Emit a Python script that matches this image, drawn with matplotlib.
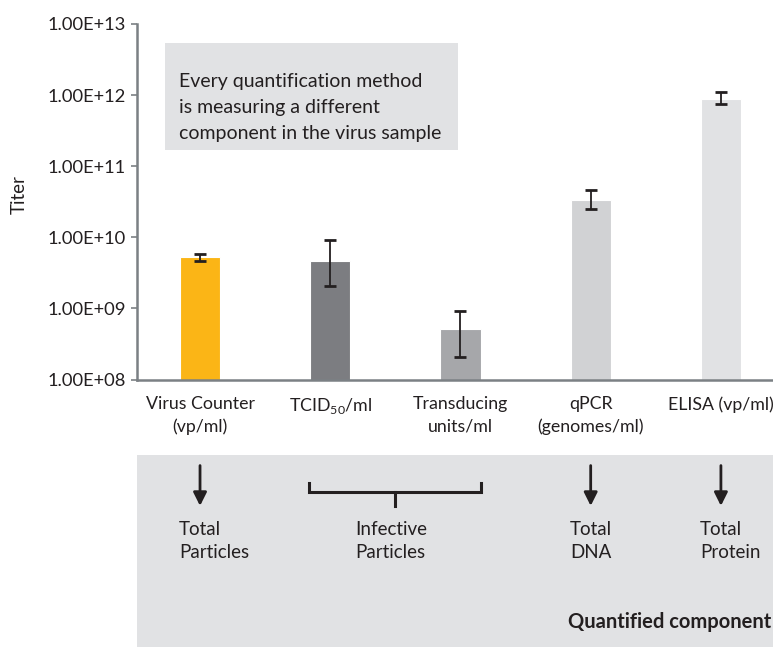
import numpy as np
import matplotlib
matplotlib.use('Agg')
import matplotlib.pyplot as plt
from matplotlib.patches import Rectangle
from matplotlib.ticker import FixedLocator, FuncFormatter

plt.rcParams['font.family'] = ['Lato', 'DejaVu Sans']

# data
categories = ['Virus Counter\n(vp/ml)', r'TCID$_{\mathregular{50}}$/ml', 'Transducing\nunits/ml',
              'qPCR\n(genomes/ml)', 'ELISA (vp/ml)']
titer = [5.2e9, 4.6e9, 5.1e8, 3.4e10, 8.9e11]
err_low = [4.7e9, 2.05e9, 2.1e8, 2.5e10, 7.4e11]
err_high = [5.9e9, 9.1e9, 9.2e8, 4.7e10, 1.09e12]
bar_colors = ['#FBB516', '#7C7D81', '#A6A7AA', '#D1D2D4', '#E1E2E4']
y_ticks = [1e8, 1e9, 1e10, 1e11, 1e12, 1e13]

components = ['Total\nParticles', 'Infective\nParticles', 'Total\nDNA', 'Total\nProtein']
comp_pos = [0, 1, 3, 4]  # index of bar where each component label sits

W, H = 773, 647
fs = 13.5
dark = '#231F20'
fig = plt.figure(figsize=(W / 100, H / 100), dpi=100)

ax = fig.add_axes([137 / W, 1 - 379.5 / H, 1 - 137 / W, (379.5 - 24) / H])
x = np.arange(len(titer))
vals = np.array(titer)
yerr = [vals - np.array(err_low), np.array(err_high) - vals]
ax.bar(x, vals, width=0.31, color=bar_colors, edgecolor='white', linewidth=0.8, zorder=2)
ax.errorbar(x, vals, yerr=yerr, fmt='none', ecolor=dark, elinewidth=1.3,
            capsize=4, capthick=2, zorder=3)

ax.set_yscale('log')
ax.set_ylim(1e8, 1e13)
ax.set_xlim(-0.484, 4.4)
ax.yaxis.set_major_locator(FixedLocator(y_ticks))
ax.yaxis.set_minor_locator(FixedLocator([]))
ax.yaxis.set_major_formatter(FuncFormatter(lambda v, p: f'{v:.2E}'))
ax.tick_params(axis='y', length=4, width=1.2, color='#7B8084', labelsize=13.2,
               labelcolor=dark, pad=4)
ax.set_xticks(x)
ax.set_xticklabels(categories, fontsize=12.8, color=dark, linespacing=1.45)
ax.tick_params(axis='x', length=0, pad=12)
for s in ['top', 'right']:
    ax.spines[s].set_visible(False)
for s in ['left', 'bottom']:
    ax.spines[s].set_color('#7B8084')
    ax.spines[s].set_linewidth(1.8)
ax.set_ylabel('Titer', fontsize=fs, color=dark)
ax.yaxis.set_label_coords((28 - 137) / (W - 137), 0.52)

# annotation box
fig.patches.append(Rectangle((165 / W, 1 - 150 / H), (458 - 165) / W, 107 / H,
                             transform=fig.transFigure, facecolor='#E1E2E4',
                             edgecolor='none', zorder=0))
fig.text(179 / W, 1 - 107.5 / H,
         'Every quantification method\nis measuring a different\ncomponent in the virus sample',
         fontsize=14, color=dark, va='center', ha='left', linespacing=1.62)

# bottom panel with quantified components
ax2 = fig.add_axes([137 / W, 0, 1 - 137 / W, (H - 455) / H])
ax2.set_facecolor('#E1E2E4')
ax2.set_xlim(ax.get_xlim())
ax2.set_ylim(0, 1)
ax2.set_xticks([])
ax2.set_yticks([])
for s in ax2.spines.values():
    s.set_visible(False)

for i in [0, 3, 4]:
    ax2.annotate('', xy=(i, 0.735), xytext=(i, 0.945),
                 arrowprops=dict(arrowstyle='-|>', lw=2, color=dark, mutation_scale=20,
                                 shrinkA=0, shrinkB=0))
bl, br = 1 - 0.16, 2 + 0.16
ax2.plot([bl, bl, br, br], [0.855, 0.807, 0.807, 0.855], color=dark, lw=2.2,
         solid_joinstyle='miter')
ax2.plot([1.5, 1.5], [0.807, 0.735], color=dark, lw=2.2)

for label, i in zip(components, comp_pos):
    xpos = i - 0.16 if label != 'Infective\nParticles' else 1.5 - 0.31
    ax2.text(xpos, 0.552, label, fontsize=fs, color=dark, ha='left', va='center',
             linespacing=1.4)
ax2.text(0.998, 0.13, 'Quantified component', transform=ax2.transAxes, fontsize=14.5,
         fontweight='bold', color=dark, ha='right', va='center')

fig.savefig('out.png', dpi=100)
